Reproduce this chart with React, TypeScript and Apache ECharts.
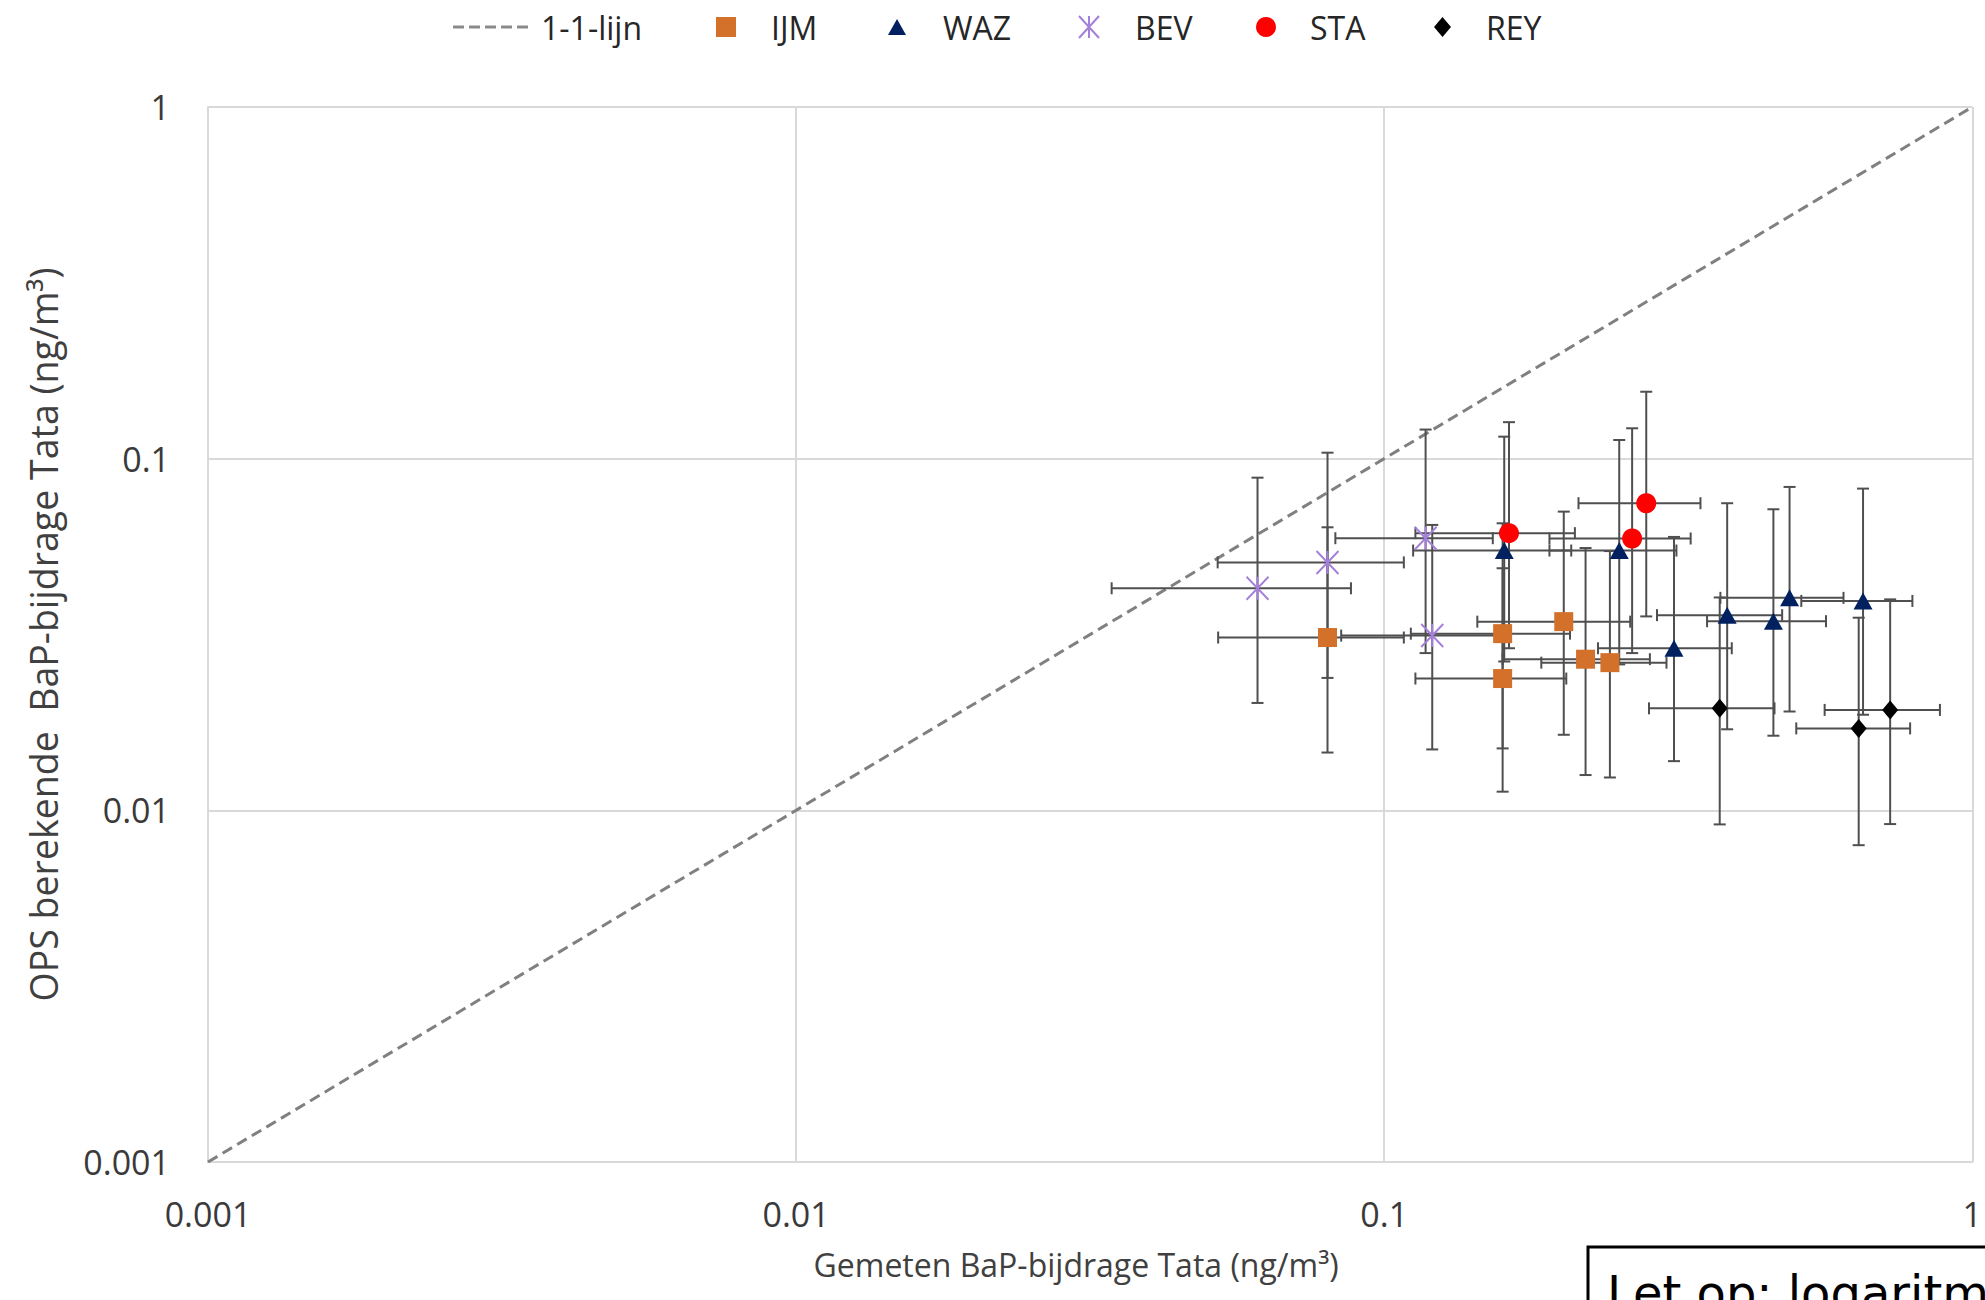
import React, { useEffect, useRef } from 'react';
import * as echarts from 'echarts';

// ---- axis ticks ----
const axisTickValues = [0.001, 0.01, 0.1, 1];
const axisTickLabels = ['0.001', '0.01', '0.1', '1'];

// ---- 1:1 line ----
const oneToOneX = [0.001, 1];
const oneToOneY = [0.001, 1];

// ---- IJM ----
const ijmX = [0.0801, 0.159, 0.202, 0.159, 0.22, 0.242];
const ijmY = [0.031, 0.0318, 0.0344, 0.0237, 0.0269, 0.0263];
const ijmXLow = [0.0522, 0.111, 0.144, 0.113, 0.159, 0.185];
const ijmXHigh = [0.108, 0.207, 0.262, 0.204, 0.283, 0.302];
const ijmYLow = [0.0146, 0.015, 0.0164, 0.0113, 0.0126, 0.0124];
const ijmYHigh = [0.0638, 0.0655, 0.0707, 0.0488, 0.0557, 0.0546];

// ---- WAZ ----
const wazX = [0.16, 0.251, 0.311, 0.383, 0.459, 0.489, 0.652];
const wazY = [0.0548, 0.0548, 0.0289, 0.0359, 0.0345, 0.0402, 0.0394];
const wazXLow = [0.112, 0.191, 0.231, 0.291, 0.354, 0.373, 0.512];
const wazXHigh = [0.208, 0.314, 0.39, 0.475, 0.564, 0.604, 0.791];
const wazYLow = [0.0265, 0.026, 0.0138, 0.017, 0.0163, 0.0191, 0.0187];
const wazYHigh = [0.1155, 0.113, 0.0599, 0.0747, 0.0718, 0.0831, 0.0822];

// ---- BEV ----
const bevX = [0.0609, 0.0801, 0.1176, 0.1207];
const bevY = [0.0428, 0.0507, 0.0594, 0.0314];
const bevXLow = [0.0344, 0.0521, 0.0826, 0.0845];
const bevXHigh = [0.0878, 0.108, 0.153, 0.157];
const bevYLow = [0.0202, 0.0238, 0.028, 0.0149];
const bevYHigh = [0.0883, 0.104, 0.121, 0.0648];

// ---- STA ----
const staX = [0.163, 0.279, 0.264];
const staY = [0.0614, 0.0747, 0.0593];
const staXLow = [0.113, 0.214, 0.191];
const staXHigh = [0.211, 0.345, 0.332];
const staYLow = [0.0289, 0.0356, 0.028];
const staYHigh = [0.127, 0.155, 0.122];

// ---- REY ----
const reyX = [0.372, 0.641, 0.725];
const reyY = [0.0195, 0.0171, 0.0193];
const reyXLow = [0.282, 0.502, 0.561];
const reyXHigh = [0.461, 0.784, 0.881];
const reyYLow = [0.00912, 0.00796, 0.00914];
const reyYHigh = [0.0403, 0.0353, 0.0398];

const FONT = "'Open Sans', sans-serif";
const ASTERISK = 'path://M0,0L20,22M20,0L0,22M10,0L10,22';
const DASHES = 'path://M0,0h11v3h-11zM16,0h11v3h-11zM32,0h11v3h-11zM48,0h11v3h-11zM64,0h11v3h-11z';

function zip(xs: number[], ys: number[]) {
  return xs.map((x, i) => [x, ys[i]]);
}
function zipErr(xs: number[], ys: number[], xl: number[], xh: number[], yl: number[], yh: number[]) {
  return xs.map((x, i) => [x, ys[i], xl[i], xh[i], yl[i], yh[i]]);
}

function tickLabel(v: number) {
  let best = 0;
  let bestD = Infinity;
  axisTickValues.forEach((t, i) => {
    const d = Math.abs(Math.log10(t) - Math.log10(v));
    if (d < bestD) {
      bestD = d;
      best = i;
    }
  });
  return axisTickLabels[best];
}

const ERR_STYLE = { stroke: '#4f4f4f', lineWidth: 2, fill: null };
const CAP = 6;

function renderErr(params: any, api: any) {
  const x = api.value(0);
  const y = api.value(1);
  const c = api.coord([x, y]);
  const xl = api.coord([api.value(2), y])[0];
  const xh = api.coord([api.value(3), y])[0];
  const yl = api.coord([x, api.value(4)])[1];
  const yh = api.coord([x, api.value(5)])[1];
  const ln = (x1: number, y1: number, x2: number, y2: number) => ({
    type: 'line',
    shape: { x1, y1, x2, y2 },
    style: ERR_STYLE,
  });
  return {
    type: 'group',
    children: [
      ln(xl, c[1], xh, c[1]),
      ln(xl, c[1] - CAP, xl, c[1] + CAP),
      ln(xh, c[1] - CAP, xh, c[1] + CAP),
      ln(c[0], yl, c[0], yh),
      ln(c[0] - CAP, yl, c[0] + CAP, yl),
      ln(c[0] - CAP, yh, c[0] + CAP, yh),
    ],
  };
}

function errSeries(name: string, data: number[][]) {
  return {
    name,
    type: 'custom',
    renderItem: renderErr,
    data,
    encode: { x: [0, 2, 3], y: [1, 4, 5] },
    z: 2,
    silent: true,
  };
}

function legendItem(left: number, name: string, icon: string, w: number, h: number, pad: number, extra: any = {}) {
  const item: any = { name, icon };
  if (extra.itemStyle) item.itemStyle = extra.itemStyle;
  return {
    left,
    top: 11,
    padding: 0,
    orient: 'horizontal',
    selectedMode: false,
    itemWidth: w,
    itemHeight: h,
    data: [item],
    textStyle: { fontFamily: FONT, fontSize: 32, color: '#262626', padding: [0, 0, 0, pad] },
  };
}

export default function App() {
  const ref = useRef<HTMLDivElement>(null);

  useEffect(() => {
    document.body.style.margin = '0';
    if (!ref.current) return;
    const chart = echarts.init(ref.current, undefined, { renderer: 'svg' });

    const axisCommon = {
      type: 'log',
      logBase: 10,
      min: 0.001,
      max: 1,
      axisLine: { show: true, lineStyle: { color: '#d9d9d9', width: 2 } },
      axisTick: { show: false },
      splitLine: { show: true, lineStyle: { color: '#d9d9d9', width: 2 } },
      minorTick: { show: false },
    };

    const option: any = {
      animation: false,
      backgroundColor: '#ffffff',
      grid: { left: 208, right: 12, top: 107, bottom: 138, containLabel: false },
      legend: [
        legendItem(453, '1-1-lijn', DASHES, 75, 14, 8, {
          itemStyle: { color: '#8a8a8a', borderWidth: 0 },
        }),
        legendItem(716, 'IJM', 'rect', 20, 20, 30),
        legendItem(888, 'WAZ', 'triangle', 18, 16, 32),
        legendItem(1078, 'BEV', ASTERISK, 20, 24, 31, {
          itemStyle: { color: 'rgba(0,0,0,0)', borderColor: '#A47FDB', borderWidth: 2 },
        }),
        legendItem(1256, 'STA', 'circle', 20, 20, 29),
        legendItem(1434, 'REY', 'diamond', 17, 20, 30),
      ],
      xAxis: {
        ...axisCommon,
        name: 'Gemeten BaP-bijdrage Tata (ng/m³)',
        nameLocation: 'middle',
        nameGap: 86,
        nameTextStyle: { fontFamily: FONT, fontSize: 32, color: '#404040', padding: [0, 28, 0, 0] },
        axisLabel: {
          margin: 35,
          fontFamily: FONT,
          fontSize: 34,
          color: '#3a3a3a',
          formatter: (v: number) => tickLabel(v),
          showMinLabel: true,
          showMaxLabel: true,
        },
      },
      yAxis: {
        ...axisCommon,
        name: 'OPS berekende \u00a0BaP-bijdrage Tata (ng/m³)',
        nameLocation: 'middle',
        nameGap: 146,
        nameTextStyle: { fontFamily: FONT, fontSize: 37.5, color: '#404040' },
        axisLabel: {
          margin: 38,
          fontFamily: FONT,
          fontSize: 34,
          color: '#3a3a3a',
          formatter: (v: number) => tickLabel(v),
          showMinLabel: true,
          showMaxLabel: true,
        },
      },
      series: [
        {
          name: '1-1-lijn',
          type: 'line',
          data: zip(oneToOneX, oneToOneY),
          symbol: 'none',
          lineStyle: { color: '#808080', width: 3, type: [11, 6] },
          itemStyle: { color: '#8a8a8a' },
          z: 1,
          silent: true,
        },
        errSeries('IJM-err', zipErr(ijmX, ijmY, ijmXLow, ijmXHigh, ijmYLow, ijmYHigh)),
        errSeries('WAZ-err', zipErr(wazX, wazY, wazXLow, wazXHigh, wazYLow, wazYHigh)),
        errSeries('BEV-err', zipErr(bevX, bevY, bevXLow, bevXHigh, bevYLow, bevYHigh)),
        errSeries('STA-err', zipErr(staX, staY, staXLow, staXHigh, staYLow, staYHigh)),
        errSeries('REY-err', zipErr(reyX, reyY, reyXLow, reyXHigh, reyYLow, reyYHigh)),
        {
          name: 'IJM',
          type: 'scatter',
          data: zip(ijmX, ijmY),
          symbol: 'rect',
          symbolSize: 19,
          itemStyle: { color: '#D3702A', opacity: 1 },
          z: 5,
        },
        {
          name: 'WAZ',
          type: 'scatter',
          data: zip(wazX, wazY),
          symbol: 'triangle',
          symbolSize: [19, 17],
          itemStyle: { color: '#002060', opacity: 1 },
          z: 5,
        },
        {
          name: 'BEV',
          type: 'scatter',
          data: zip(bevX, bevY),
          symbol: ASTERISK,
          symbolSize: [22, 23],
          itemStyle: { color: 'rgba(0,0,0,0)', borderColor: '#A47FDB', borderWidth: 2, opacity: 1 },
          z: 5,
        },
        {
          name: 'STA',
          type: 'scatter',
          data: zip(staX, staY),
          symbol: 'circle',
          symbolSize: 20,
          itemStyle: { color: '#FF0000', opacity: 1 },
          z: 5,
        },
        {
          name: 'REY',
          type: 'scatter',
          data: zip(reyX, reyY),
          symbol: 'diamond',
          symbolSize: [16, 19],
          itemStyle: { color: '#000000', opacity: 1 },
          z: 5,
        },
      ],
      graphic: [
        {
          type: 'rect',
          shape: { x: 1588, y: 1247, width: 500, height: 100 },
          style: { fill: '#ffffff', stroke: '#000000', lineWidth: 3 },
          z: 10,
        },
        {
          type: 'text',
          x: 1607,
          y: 1293,
          style: {
            text: 'Let op: logaritm',
            fontFamily: "'DejaVu Sans', sans-serif",
            fontSize: 48,
            fill: '#000000',
            textAlign: 'left',
            textVerticalAlign: 'middle',
          },
          z: 11,
        },
      ],
    };

    chart.setOption(option);
    return () => {
      chart.dispose();
    };
  }, []);

  return <div ref={ref} style={{ width: 1985, height: 1300 }} />;
}
